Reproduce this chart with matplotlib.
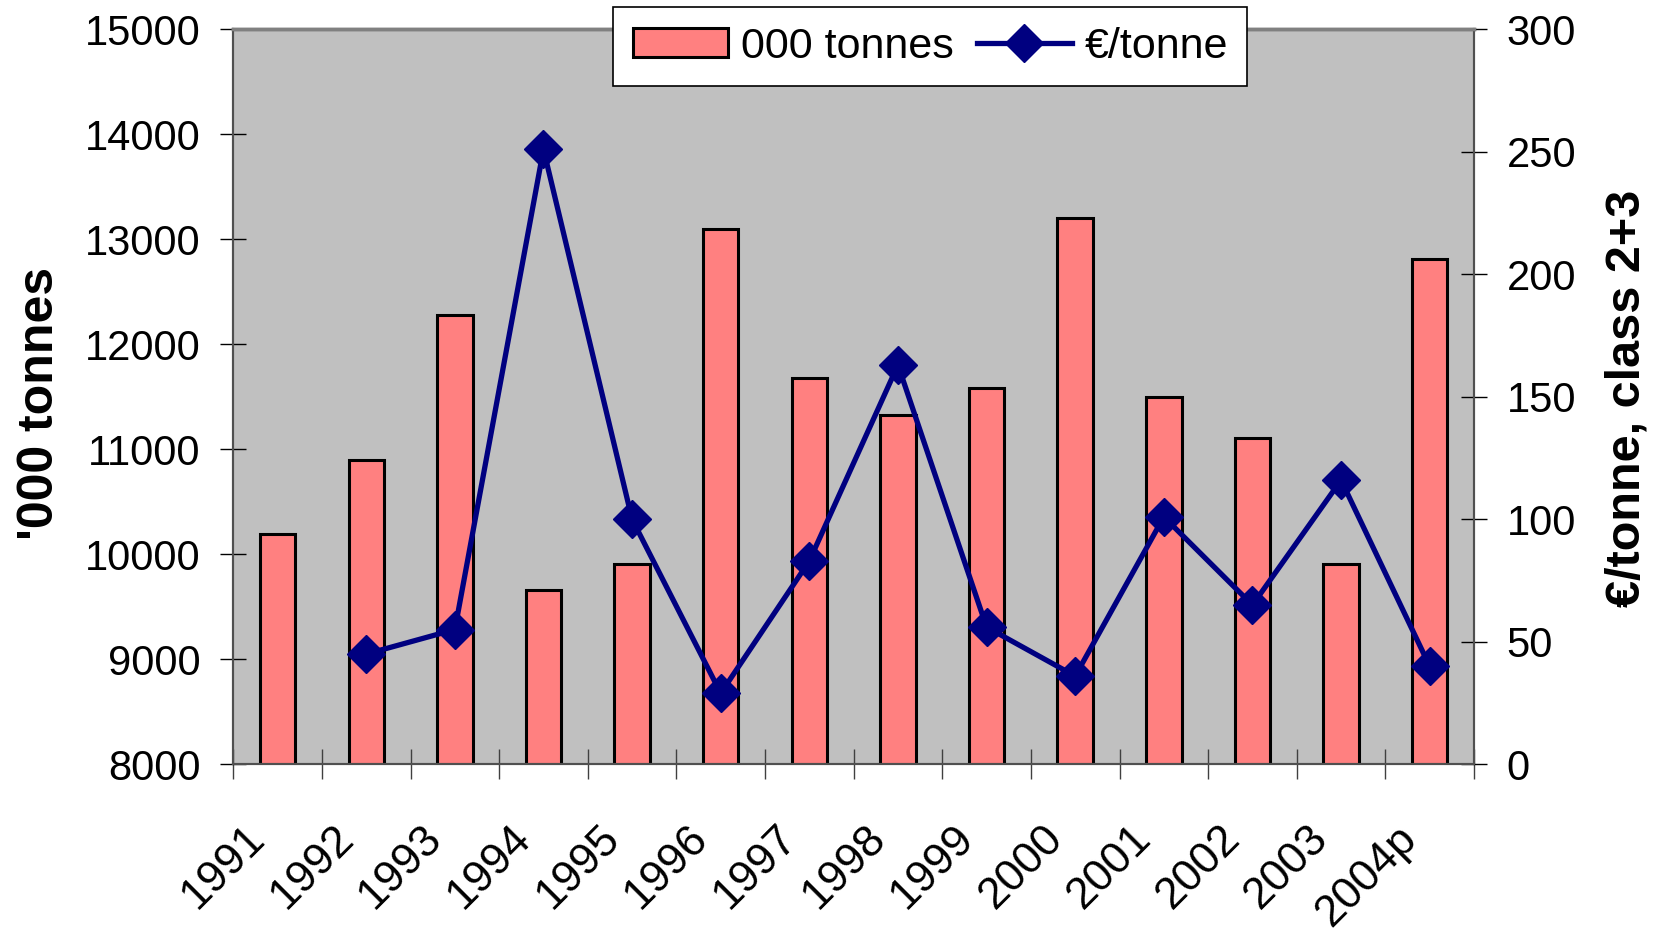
import numpy as np
import matplotlib
matplotlib.use("Agg")
import matplotlib.pyplot as plt
from matplotlib.transforms import ScaledTranslation

plt.rcParams['font.family'] = ['Liberation Sans', 'DejaVu Sans']

# data
years = ["1991", "1992", "1993", "1994", "1995", "1996", "1997",
         "1998", "1999", "2000", "2001", "2002", "2003", "2004p"]
tonnes = [10190, 10900, 12280, 9660, 9910, 13100, 11680,
          11330, 11580, 13200, 11500, 11110, 9910, 12810]
price = [np.nan, 45, 55, 251, 100, 29, 83,
         163, 56, 36, 101, 65, 116, 40]

x = np.arange(len(years))

fig = plt.figure(figsize=(16.65, 9.39), dpi=100)
ax = fig.add_axes([233.3 / 1665, 1 - 764.3 / 939, (1474 - 233.3) / 1665, (764.3 - 29.3) / 939])
ax.set_facecolor('#C0C0C0')

bars = ax.bar(x, tonnes, width=0.4, color='#FF8080', edgecolor='black',
              linewidth=2.2, label="000 tonnes", zorder=2)
ax.set_ylim(8000, 15000)
ax.set_yticks(np.arange(8000, 15001, 1000))
ax.set_xlim(-0.5, len(years) - 0.5)

# category boundaries get the tick marks, centres get the labels
ax.set_xticks(np.arange(-0.5, len(years)), labels=[""] * (len(years) + 1))
ax.set_xticks(x, labels=years, minor=True)
ax.tick_params(axis='x', which='major', direction='inout', length=21, width=1, color='#404040')
ax.tick_params(axis='x', which='minor', length=0, pad=49, labelsize=32)
shift = ScaledTranslation(-0.19, 0, fig.dpi_scale_trans)
for lab in ax.get_xticklabels(minor=True):
    lab.set_rotation(45)
    lab.set_ha('right')
    lab.set_va('center')
    lab.set_rotation_mode('anchor')
    lab.set_transform(lab.get_transform() + shift)
ax.tick_params(axis='y', direction='inout', length=19, width=1, labelsize=30, pad=14)

ax2 = ax.twinx()
line, = ax2.plot(x, price, color='#000080', linewidth=3.8, marker='D',
                 markersize=19, label="€/tonne", zorder=3)
ax2.set_ylim(0, 300)
ax2.set_yticks(np.arange(0, 301, 50))
ax2.tick_params(axis='y', direction='inout', length=19, width=1, labelsize=30, pad=14)

for a in (ax, ax2):
    for side in ('left', 'bottom', 'right'):
        a.spines[side].set_color('#505050')
        a.spines[side].set_linewidth(1.5)
    a.spines['top'].set_color('#808080')
    a.spines['top'].set_linewidth(2.5)

ax.set_ylabel("'000 tonnes", fontsize=36, fontweight='bold', va='center')
ax.yaxis.set_label_coords((40 - 233.3) / 1240.7, (764.3 - 403) / 735)
ax2.set_ylabel("€/tonne, class 2+3", fontsize=35, fontweight='bold',
               rotation=90, va='center')
ax2.yaxis.set_label_coords((1627 - 233.3) / 1240.7, (764.3 - 398) / 735)

leg = fig.legend(handles=[bars, line], loc='upper left',
                 bbox_to_anchor=(613.5 / 1665, 1 - 7.3 / 939),
                 ncol=2, fontsize=31, frameon=True, fancybox=False,
                 borderaxespad=0, borderpad=0.45, handlelength=2.2,
                 handleheight=0.65, handletextpad=0.3, columnspacing=0.55)
leg.get_frame().set_edgecolor('black')
leg.get_frame().set_linewidth(1.2)
leg.get_frame().set_alpha(1)

fig.savefig("out.png", dpi=100)
